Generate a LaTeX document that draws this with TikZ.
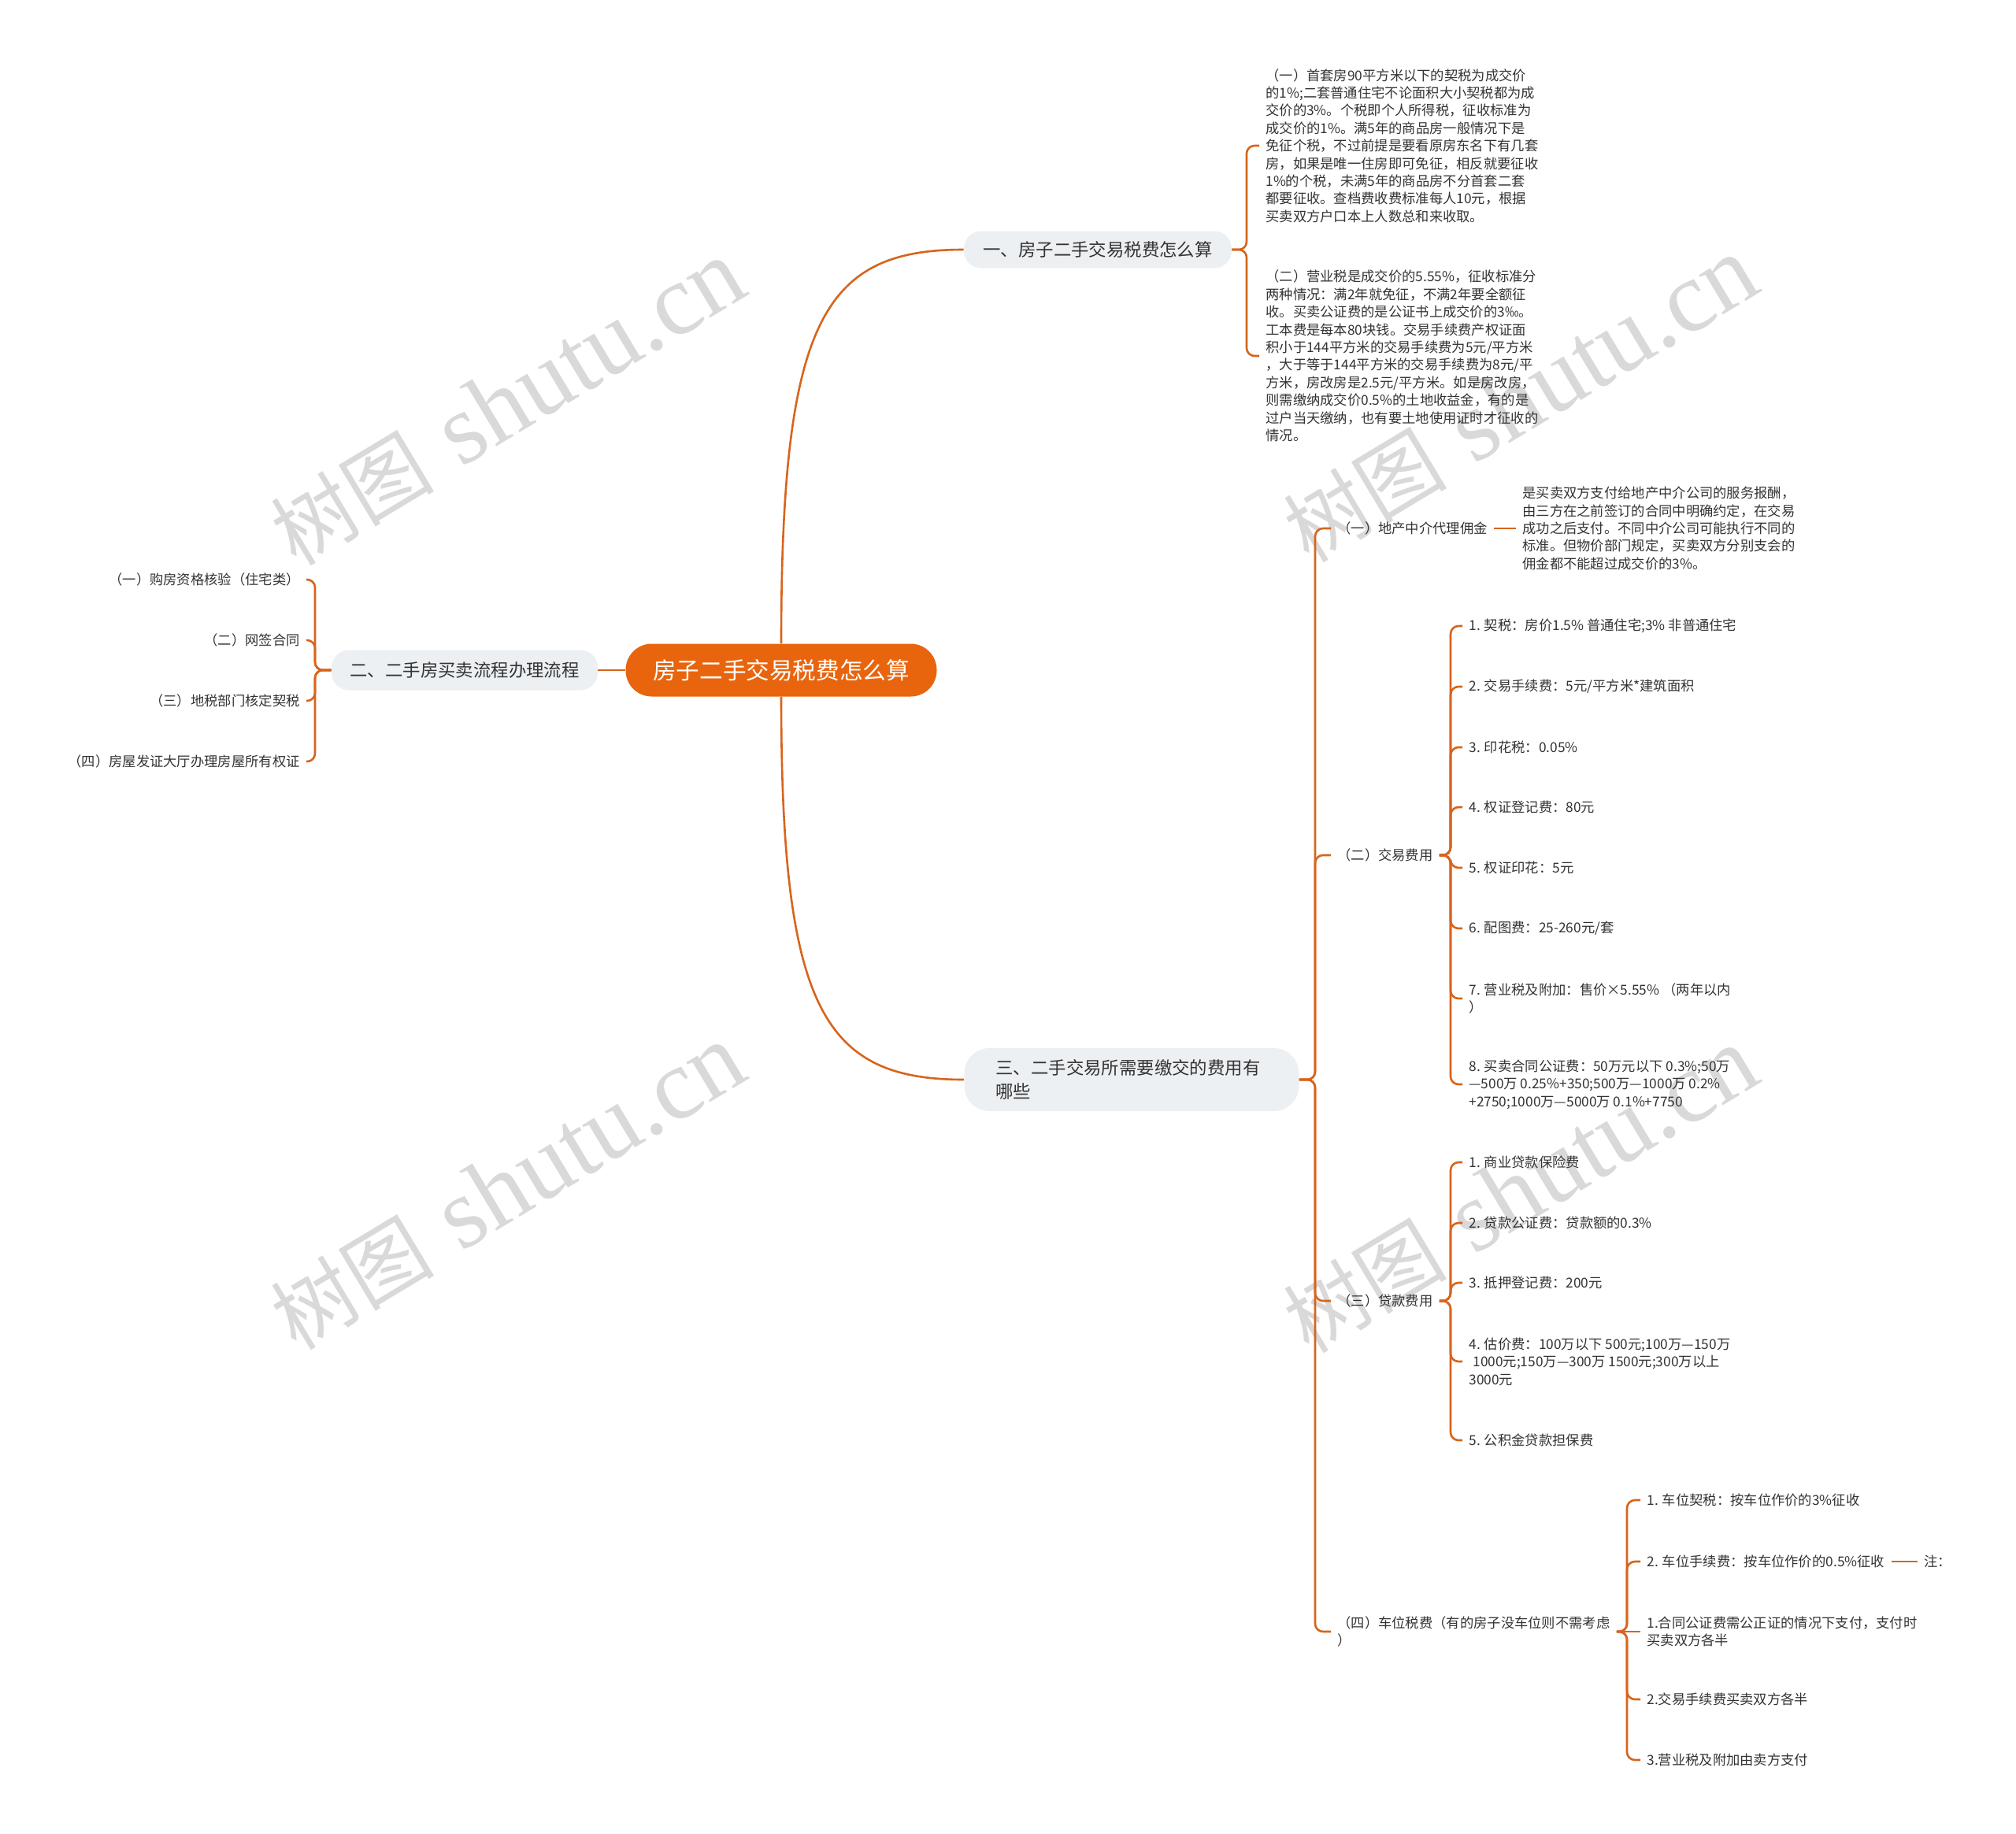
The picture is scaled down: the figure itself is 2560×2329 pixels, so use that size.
\documentclass[tikz,border=0pt]{standalone}
\usepackage{fontspec}
\setmainfont{Noto Sans CJK SC}
\newfontfamily\wmserif{Liberation Serif}
\definecolor{lineC}{HTML}{D8641C}
\definecolor{rootC}{HTML}{E8650E}
\definecolor{boxC}{HTML}{EDF0F3}
\definecolor{txtC}{HTML}{333333}
\definecolor{wmC}{HTML}{D9D9D9}
\newcommand{\wmtext}{{\fontsize{52pt}{60pt}\selectfont 树图}\hspace{18pt}{\wmserif\fontsize{64pt}{70pt}\selectfont shutu.cn}}
\begin{document}
\begin{tikzpicture}[x=0.5pt,y=-0.5pt,
  conn/.style={draw=lineC,line width=1.3pt,rounded corners=5pt},
  curveconn/.style={draw=lineC,line width=1.3pt},
  leaf/.style={inner xsep=4pt,inner ysep=0pt,text=txtC,align=left,font=\fontsize{8.65pt}{11.2pt}\selectfont},
  leafR/.style={leaf,anchor=west},
  leafL/.style={leaf,anchor=east,align=right},
  branch/.style={fill=boxC,rounded corners=11pt,text=txtC,font=\fontsize{11.2pt}{15pt}\selectfont,inner sep=0pt},
  rootbox/.style={fill=rootC,rounded corners=16.5pt,text=white,font=\fontsize{14.8pt}{18pt}\selectfont,inner sep=0pt,minimum width=197.5pt,minimum height=33.5pt},
  wm/.style={text=wmC,rotate=31,inner sep=0pt}]

\fill[white] (0,0) rectangle (2560,2329);
\useasboundingbox (0,0) rectangle (2560,2329);

% watermarks
\node[wm] (wm1) at (645,512) {\wmtext};
\node[wm] (wm2) at (1931,508) {\wmtext};
\node[wm] (wm3) at (645,1508) {\wmtext};
\node[wm] (wm4) at (1931,1512) {\wmtext};

% main nodes
\node[rootbox] (root) at (992,851) {房子二手交易税费怎么算};
\node[branch,minimum width=170pt,minimum height=23.5pt] (b1) at (1394,317) {一、房子二手交易税费怎么算};
\node[branch,minimum width=169pt,minimum height=25.5pt] (b2) at (590,851) {二、二手房买卖流程办理流程};
\node[branch,rounded corners=16pt,inner xsep=20pt,text width=172.5pt,minimum height=40pt,align=left] (b3) at (1437,1371) {三、二手交易所需要缴交的费用有\\哪些};

% branch 1 children
\node[leafR] (c11) at (1599,185) {（一）首套房90平方米以下的契税为成交价\\的1\%;二套普通住宅不论面积大小契税都为成\\交价的3\%。个税即个人所得税，征收标准为\\成交价的1\%。满5年的商品房一般情况下是\\免征个税，不过前提是要看原房东名下有几套\\房，如果是唯一住房即可免征，相反就要征收\\1\%的个税，未满5年的商品房不分首套二套\\都要征收。查档费收费标准每人10元，根据\\买卖双方户口本上人数总和来收取。};
\node[leafR] (c12) at (1599,452) {（二）营业税是成交价的5.55\%，征收标准分\\两种情况：满2年就免征，不满2年要全额征\\收。买卖公证费的是公证书上成交价的3‰。\\工本费是每本80块钱。交易手续费产权证面\\积小于144平方米的交易手续费为5元/平方米\\，大于等于144平方米的交易手续费为8元/平\\方米，房改房是2.5元/平方米。如是房改房，\\则需缴纳成交价0.5\%的土地收益金，有的是\\过户当天缴纳，也有要土地使用证时才征收的\\情况。};

% branch 2 children
\node[leafL] (c21) at (389,736) {（一）购房资格核验（住宅类）};
\node[leafL] (c22) at (389,813) {（二）网签合同};
\node[leafL] (c23) at (389,890) {（三）地税部门核定契税};
\node[leafL] (c24) at (389,967) {（四）房屋发证大厅办理房屋所有权证};

% branch 3 children
\node[leafR] (b31) at (1690,671) {（一）地产中介代理佣金};
\node[leafR] (d31) at (1925,671) {是买卖双方支付给地产中介公司的服务报酬，\\由三方在之前签订的合同中明确约定，在交易\\成功之后支付。不同中介公司可能执行不同的\\标准。但物价部门规定，买卖双方分别支会的\\佣金都不能超过成交价的3\%。};
\node[leafR] (b32) at (1690,1086) {（二）交易费用};
\node[leafR] (b33) at (1690,1652) {（三）贷款费用};
\node[leafR] (b34) at (1690,2072) {（四）车位税费（有的房子没车位则不需考虑\\）};

\node[leafR] (e1) at (1857,795) {1. 契税：房价1.5\% 普通住宅;3\% 非普通住宅};
\node[leafR] (e2) at (1857,872) {2. 交易手续费：5元/平方米*建筑面积};
\node[leafR] (e3) at (1857,949) {3. 印花税：0.05\%};
\node[leafR] (e4) at (1857,1025) {4. 权证登记费：80元};
\node[leafR] (e5) at (1857,1102) {5. 权证印花：5元};
\node[leafR] (e6) at (1857,1179) {6. 配图费：25-260元/套};
\node[leafR] (e7) at (1857,1268) {7. 营业税及附加：售价×5.55\% （两年以内\\）};
\node[leafR] (e8) at (1857,1377) {8. 买卖合同公证费：50万元以下 0.3\%;50万\\—500万 0.25\%+350;500万—1000万 0.2\%\\+2750;1000万—5000万 0.1\%+7750};

\node[leafR] (f1) at (1857,1476) {1. 商业贷款保险费};
\node[leafR] (f2) at (1857,1553) {2. 贷款公证费：贷款额的0.3\%};
\node[leafR] (f3) at (1857,1629) {3. 抵押登记费：200元};
\node[leafR] (f4) at (1857,1729) {4. 估价费：100万以下 500元;100万—150万\\\hspace*{2.5pt}1000元;150万—300万 1500元;300万以上\\3000元};
\node[leafR] (f5) at (1857,1829) {5. 公积金贷款担保费};

\node[leafR] (g1) at (2083,1905) {1. 车位契税：按车位作价的3\%征收};
\node[leafR] (g2) at (2083,1983) {2. 车位手续费：按车位作价的0.5\%征收};
\node[leafR] (g3) at (2083,2072) {1.合同公证费需公正证的情况下支付，支付时\\买卖双方各半};
\node[leafR] (g4) at (2083,2158) {2.交易手续费买卖双方各半};
\node[leafR] (g5) at (2083,2235) {3.营业税及附加由卖方支付};
\node[leafR] (note) at (2435,1983) {注：};

% spine coordinates
\coordinate (s1) at (1583,317);
\coordinate (s2) at (400,851);
\coordinate (s3) at (1670,1371);
\coordinate (s32) at (1842,1086);
\coordinate (s33) at (1842,1652);
\coordinate (s34) at (2066,2072);

% connectors
\draw[curveconn] (root.north) .. controls (992,408) and (1045,317) .. (b1.west);
\draw[curveconn] (root.south) .. controls (992,1280) and (1045,1371) .. (b3.west);
\draw[curveconn] (root.west) -- (b2.east);

\foreach \c in {c11,c12} \draw[conn] (b1.east) -- (s1) |- (\c.west);
\foreach \c in {c21,c22,c23,c24} \draw[conn] (b2.west) -- (s2) |- (\c.east);
\foreach \c in {b31,b32,b33,b34} \draw[conn] (b3.east) -- (s3) |- (\c.west);
\draw[conn] (b31.east) -- (d31.west);
\foreach \c in {e1,e2,e3,e4,e5,e6,e7,e8} \draw[conn] (b32.east) -- (s32) |- (\c.west);
\foreach \c in {f1,f2,f3,f4,f5} \draw[conn] (b33.east) -- (s33) |- (\c.west);
\foreach \c in {g1,g2,g4,g5} \draw[conn] (b34.east) -- (s34) |- (\c.west);
\draw[conn] (b34.east) -- (g3.west);
\draw[conn] (g2.east) -- (note.west);
\end{tikzpicture}
\end{document}
